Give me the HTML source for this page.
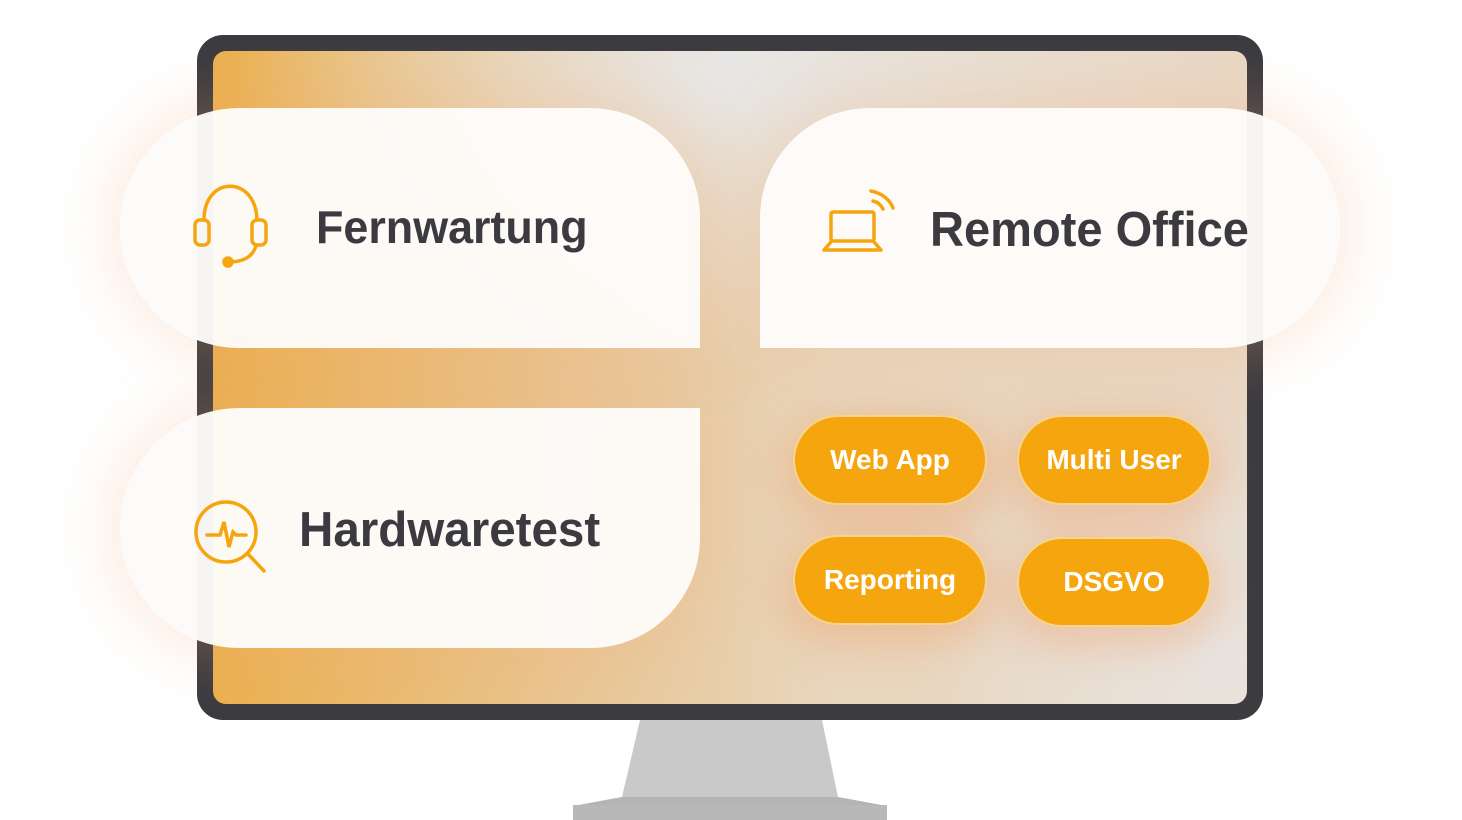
<!DOCTYPE html>
<html><head><meta charset="utf-8"><style>
body{margin:0;width:1462px;height:820px;background:#fff;position:relative;overflow:hidden;font-family:"Liberation Sans",Arial,sans-serif}
.a{position:absolute}
.frame{left:197px;top:35px;width:1066px;height:685px;border-radius:26px;background:#3c3b40}
.screen{left:213px;top:51px;width:1034px;height:653px;border-radius:13px;background:
radial-gradient(ellipse 500px 300px at 520px 20px,#e8e7e6 0%,rgba(232,231,230,0) 100%),
radial-gradient(ellipse 300px 250px at 1000px 600px,#e9e4e0 0%,rgba(233,228,224,0) 100%),
linear-gradient(90deg,#ebb04f 0%,#e9c694 35%,#e8d6bd 60%,#e9d8c6 100%)}
.card{background:rgba(253,251,249,0.97);box-shadow:0 0 60px 10px rgba(245,170,120,0.25)}
.t{color:#3a3a40;font-weight:bold;white-space:nowrap;transform-origin:0 0}
.pill{width:194px;height:90px;border-radius:45px;background:#f5a50e;border:2px solid #f8d48c;box-sizing:border-box;color:#fff;font-weight:bold;font-size:28px;display:flex;align-items:center;justify-content:center;box-shadow:0 10px 40px 10px rgba(240,150,90,0.35)}
</style></head><body>
<svg class="a" style="left:0;top:0" width="1462" height="820">
<polygon points="640,720 822,720 838,797 622,797" fill="#c9c9c9"/>
<polygon points="573,806 622,797 838,797 887,806 887,820 573,820" fill="#b4b4b4"/>
<rect x="573" y="805" width="314" height="15" fill="#b8b8b8"/>
</svg>
<div class="a frame"></div>
<div class="a screen"></div>
<div class="a card" style="left:120px;top:108px;width:580px;height:240px;border-radius:120px 110px 0 120px"></div>
<div class="a card" style="left:760px;top:108px;width:580px;height:240px;border-radius:110px 120px 120px 0"></div>
<div class="a card" style="left:120px;top:408px;width:580px;height:240px;border-radius:120px 0 110px 120px"></div>
<div class="a t" style="left:316px;top:200px;font-size:46px;transform:scaleX(0.975)">Fernwartung</div>
<div class="a t" style="left:930px;top:202px;font-size:49px;transform:scaleX(0.96)">Remote Office</div>
<div class="a t" style="left:299px;top:502px;font-size:49px;transform:scaleX(0.97)">Hardwaretest</div>
<svg class="a" style="left:180px;top:170px" width="120" height="420" fill="none" stroke="#f5a50e" stroke-width="3.5" stroke-linecap="round">
<path d="M24 50 C24 5 76 5 77 50"/>
<rect x="15" y="50" width="14" height="25" rx="5"/>
<rect x="72" y="50" width="14" height="25" rx="5"/>
<path d="M76 76 C72 88 62 92 48 92"/>
<circle cx="48" cy="92" r="4" fill="#f5a50e"/>
<circle cx="46" cy="362" r="30"/>
<path d="M27 365 H40 L44 352 L49 377 L53 362 L56 365 H66"/>
<path d="M68 384 L84 401"/>
</svg>
<svg class="a" style="left:800px;top:170px" width="120" height="100" fill="none" stroke="#f5a50e" stroke-width="3.5" stroke-linecap="round" stroke-linejoin="round">
<rect x="31" y="42" width="43" height="29" rx="2"/>
<path d="M31 72 L24 80 H81 L74 72"/>
<path d="M71 21 C82 23 90 30 93 38"/>
<path d="M73 31 C78 32 81 35 83 39"/>
</svg>
<div class="a pill" style="left:793px;top:415px">Web App</div>
<div class="a pill" style="left:1017px;top:415px">Multi User</div>
<div class="a pill" style="left:793px;top:535px">Reporting</div>
<div class="a pill" style="left:1017px;top:537px">DSGVO</div>
</body></html>
